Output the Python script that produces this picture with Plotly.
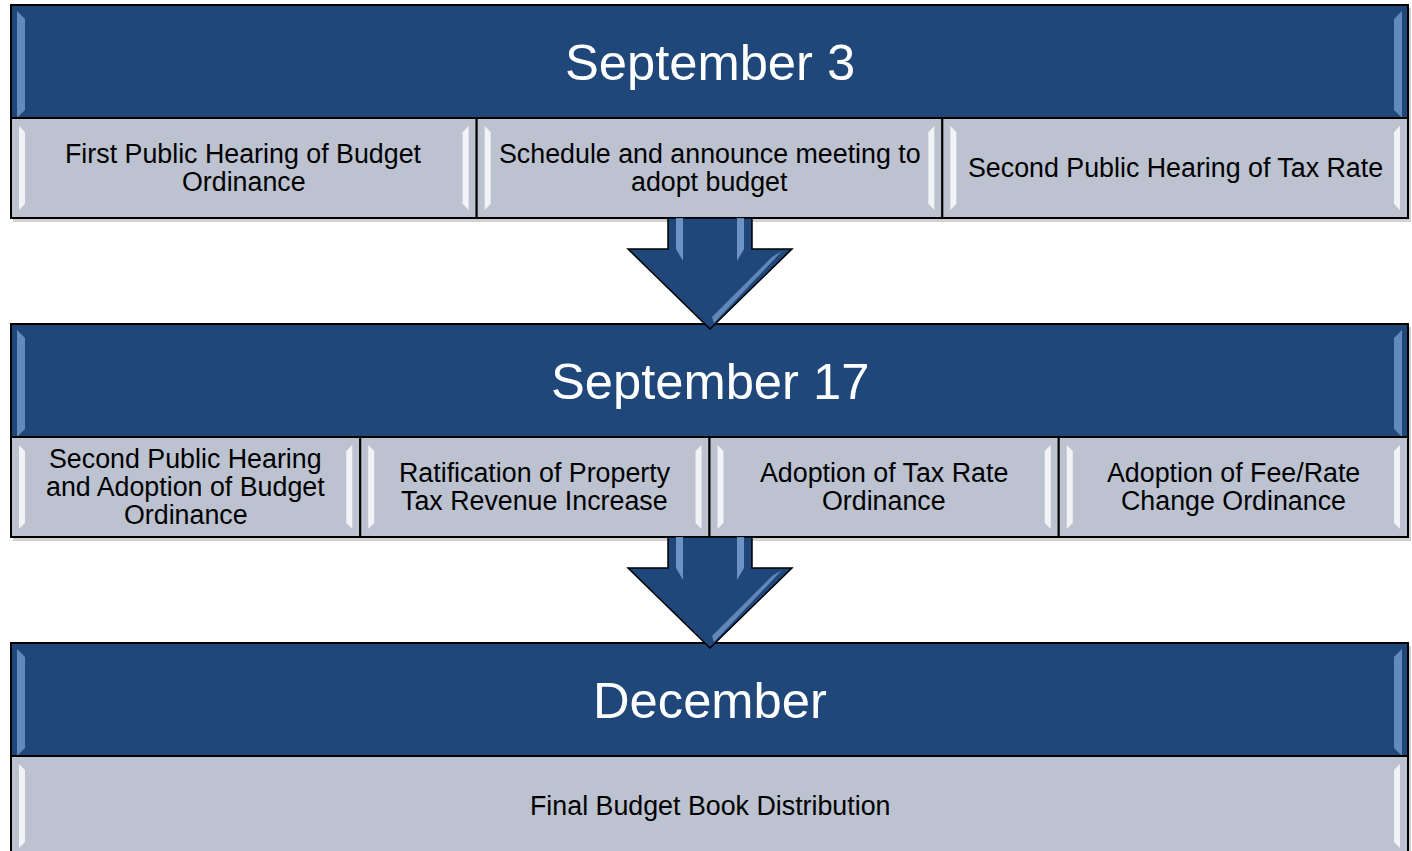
import plotly.graph_objects as go

# ---- content ----
headers = ["September 3", "September 17", "December"]
items_sep3 = ["First Public Hearing of Budget<br>Ordinance",
              "Schedule and announce meeting to<br>adopt budget",
              "Second Public Hearing of Tax Rate"]
items_sep17 = ["Second Public Hearing<br>and Adoption of Budget<br>Ordinance",
               "Ratification of Property<br>Tax Revenue Increase",
               "Adoption of Tax Rate<br>Ordinance",
               "Adoption of Fee/Rate<br>Change Ordinance"]
items_dec = ["Final Budget Book Distribution"]
stages = [items_sep3, items_sep17, items_dec]

# ---- geometry / style ----
W, H = 1412, 851
X0, X1 = 11, 1408
tops = [5, 324, 643]
HEAD_H = 113
SUB_H = 100
BLUE = "#1F477A"
GREY = "#BCC2CF"
FONT = "Arial, Liberation Sans, sans-serif"

shapes = []
annotations = []

def rect(x0, y0, x1, y1, fill, line_color="black", lw=2, opacity=1.0):
    shapes.append(dict(type="rect", xref="x", yref="y", x0=x0, y0=y0, x1=x1, y1=y1,
                       fillcolor=fill, opacity=opacity,
                       line=dict(color=line_color, width=lw)))

def path(d, fill, line_color="rgba(0,0,0,0)", lw=0, opacity=1.0):
    shapes.append(dict(type="path", xref="x", yref="y", path=d, fillcolor=fill,
                       opacity=opacity, line=dict(color=line_color, width=lw)))

def bevel(x0, y0, x1, y1, color, inset=7, w=7, op=0.8):
    path(f"M{x0+inset},{y0+inset} L{x0+inset+w},{y0+inset+w} L{x0+inset+w},{y1-inset-w} L{x0+inset},{y1-inset} Z",
         color, opacity=op)
    path(f"M{x1-inset},{y0+inset} L{x1-inset-w},{y0+inset+w} L{x1-inset-w},{y1-inset-w} L{x1-inset},{y1-inset} Z",
         color, opacity=op)

for si, (top, head, items) in enumerate(zip(tops, headers, stages)):
    bottom = top + HEAD_H + SUB_H
    rect(X0 + 2, top + 3, X1 + 3, bottom + 4, "rgba(0,0,0,0.18)", line_color="rgba(0,0,0,0)", lw=0)
    rect(X0, top, X1, top + HEAD_H, BLUE)
    bevel(X0, top, X1, top + HEAD_H + 6, "#7FA6D6", inset=6, w=8, op=0.7)
    annotations.append(dict(x=(X0 + X1) / 2, y=top + HEAD_H / 2 + 1, xref="x", yref="y",
                            text=head, showarrow=False,
                            font=dict(family=FONT, size=50.7, color="white"),
                            xanchor="center", yanchor="middle"))
    n = len(items)
    bw = (X1 - X0) / n
    for i, txt in enumerate(items):
        bx0 = X0 + i * bw
        bx1 = bx0 + bw
        by0 = top + HEAD_H
        by1 = bottom
        rect(bx0, by0, bx1, by1, GREY)
        bevel(bx0, by0, bx1, by1, "white", inset=8, w=6, op=0.8)
        lines = txt.split("<br>")
        cy = (by0 + by1) / 2
        ls = 28
        for li, ln in enumerate(lines):
            yy = cy + (li - (len(lines) - 1) / 2) * ls
            annotations.append(dict(x=(bx0 + bx1) / 2, y=yy, xref="x", yref="y",
                                    text=ln, showarrow=False,
                                    font=dict(family=FONT, size=26.8, color="black"),
                                    xanchor="center", yanchor="middle"))

CX = 710
for si in range(len(tops) - 1):
    s_top = tops[si] + HEAD_H + SUB_H
    head_y = s_top + 31
    tip_y = tops[si + 1] + 5
    d = (f"M{CX-42},{s_top} L{CX+42},{s_top} L{CX+42},{head_y} L{CX+82},{head_y} "
         f"L{CX},{tip_y} L{CX-82},{head_y} L{CX-42},{head_y} Z")
    path(d, BLUE, line_color="black", lw=1.5)
    path(f"M{CX-34},{s_top} L{CX-27},{s_top} L{CX-27},{head_y+12} L{CX-34},{head_y} Z", "#8DB3E2", opacity=0.7)
    path(f"M{CX+27},{s_top} L{CX+34},{s_top} L{CX+34},{head_y} L{CX+27},{head_y+12} Z", "#8DB3E2", opacity=0.7)
    path(f"M{CX+72},{head_y+2} L{CX+62},{head_y+8} L{CX+2},{tip_y-12} L{CX+4},{tip_y-6} Z", "#8DB3E2", opacity=0.6)

fig = go.Figure()
fig.update_layout(
    width=W, height=H,
    margin=dict(l=0, r=0, t=0, b=0),
    paper_bgcolor="white", plot_bgcolor="white",
    xaxis=dict(range=[0, W], visible=False, fixedrange=True),
    yaxis=dict(range=[H, 0], visible=False, fixedrange=True),
    shapes=shapes, annotations=annotations, showlegend=False,
)
fig.write_html("out.html",
               config={"displayModeBar": False, "staticPlot": True},
               post_script="document.body.style.margin='0';document.body.style.overflow='hidden';")
